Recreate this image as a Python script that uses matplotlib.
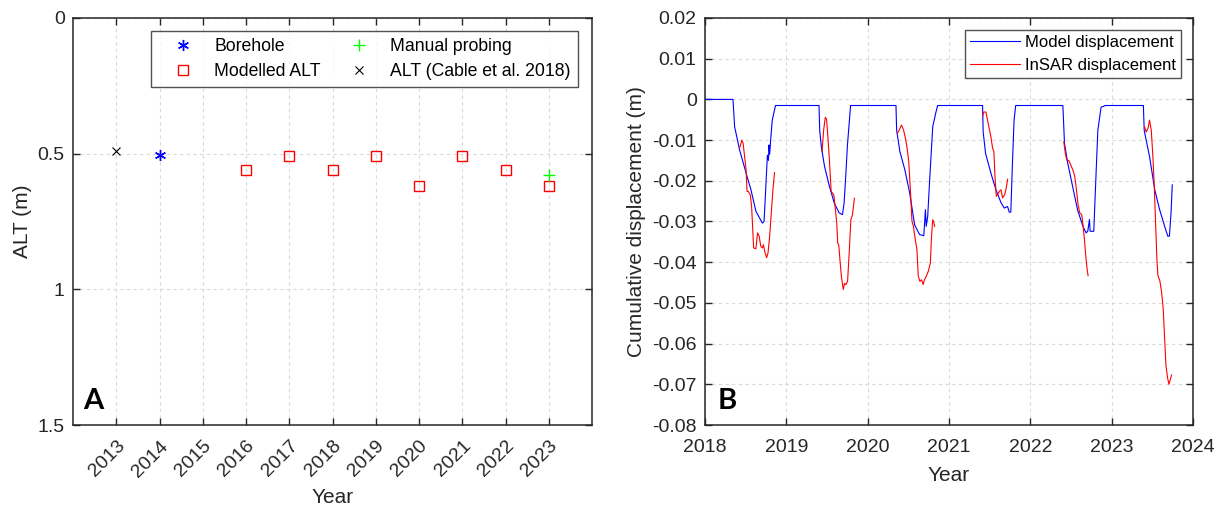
import numpy as np
import matplotlib
matplotlib.use("Agg")
import matplotlib.pyplot as plt

plt.rcParams["font.family"] = ["Liberation Sans", "DejaVu Sans"]
plt.rcParams["axes.unicode_minus"] = False

# Panel A: active layer thickness per year
years = [2013, 2014, 2015, 2016, 2017, 2018, 2019, 2020, 2021, 2022, 2023]
borehole_year = [2014]
borehole_alt = [0.505]
modelled_year = [2016, 2017, 2018, 2019, 2020, 2021, 2022, 2023]
modelled_alt = [0.56, 0.51, 0.56, 0.51, 0.62, 0.51, 0.56, 0.62]
probing_year = [2023]
probing_alt = [0.58]
cable_year = [2013]
cable_alt = [0.49]
alt_ticks = [0, 0.5, 1, 1.5]
alt_labels = ["0", "0.5", "1", "1.5"]

# Panel B: cumulative displacement (decimal year, metres)
model_t = [2018.0, 2018.344, 2018.364, 2018.425, 2018.505, 2018.565, 2018.626,
           2018.706, 2018.726, 2018.746, 2018.767, 2018.780, 2018.787, 2018.795,
           2018.807, 2018.827, 2018.867,
           2019.402, 2019.41, 2019.43, 2019.47, 2019.53, 2019.59, 2019.65,
           2019.69, 2019.71, 2019.73, 2019.75, 2019.79,
           2020.348, 2020.356, 2020.396, 2020.457, 2020.517, 2020.577, 2020.638,
           2020.69, 2020.71, 2020.72, 2020.738, 2020.76, 2020.80, 2020.84, 2020.86,
           2021.413, 2021.42, 2021.45, 2021.515, 2021.577, 2021.64, 2021.68,
           2021.72, 2021.74, 2021.76, 2021.78, 2021.80, 2021.82,
           2022.40, 2022.42, 2022.46, 2022.52, 2022.58, 2022.645, 2022.686,
           2022.706, 2022.727, 2022.735, 2022.76, 2022.78, 2022.81, 2022.83,
           2022.87, 2022.90, 2022.92,
           2023.39, 2023.40, 2023.466, 2023.53, 2023.59, 2023.65, 2023.69,
           2023.71, 2023.73, 2023.745]
model_d = [0.0, 0.0, -0.0067, -0.0124, -0.0181, -0.0222, -0.0275,
           -0.0304, -0.0300, -0.0222, -0.0137, -0.0150, -0.0112, -0.0135,
           -0.0100, -0.0051, -0.0015,
           -0.0015, -0.0075, -0.0116, -0.0165, -0.0214, -0.0255, -0.0279,
           -0.0283, -0.0255, -0.0190, -0.0116, -0.0015,
           -0.0015, -0.0075, -0.0128, -0.0173, -0.0230, -0.0308, -0.0332,
           -0.0335, -0.0271, -0.0312, -0.0288, -0.0206, -0.0067, -0.0031, -0.0015,
           -0.0015, -0.0080, -0.0133, -0.0181, -0.0222, -0.0254, -0.0267,
           -0.0263, -0.0277, -0.0277, -0.0157, -0.0051, -0.0015,
           -0.0015, -0.0108, -0.0157, -0.0214, -0.0271, -0.0311, -0.0328,
           -0.0324, -0.0295, -0.0324, -0.0324, -0.0324, -0.0173, -0.0076,
           -0.0019, -0.0017, -0.0015,
           -0.0015, -0.0076, -0.0141, -0.0222, -0.0271, -0.0311, -0.0336,
           -0.0336, -0.0279, -0.0210]

insar_t = [2018.425, 2018.453, 2018.469, 2018.485, 2018.505, 2018.517, 2018.533,
           2018.557, 2018.573, 2018.598, 2018.626, 2018.646, 2018.666, 2018.686,
           2018.706, 2018.718, 2018.738, 2018.758, 2018.775, 2018.795, 2018.815,
           2018.835, 2018.855, np.nan,
           2019.439, 2019.459, 2019.479, 2019.495, 2019.511, 2019.531, 2019.551,
           2019.567, 2019.584, 2019.604, 2019.620, 2019.632, 2019.644, 2019.660,
           2019.676, 2019.700, 2019.716, 2019.732, 2019.753, 2019.773, 2019.793,
           2019.813, 2019.825, 2019.837, np.nan,
           2020.364, 2020.388, 2020.416, 2020.441, 2020.465, 2020.485, 2020.505,
           2020.525, 2020.545, 2020.561, 2020.586, 2020.606, 2020.622, 2020.642,
           2020.662, 2020.682, 2020.698, 2020.722, 2020.746, 2020.771, 2020.783,
           2020.799, 2020.811, 2020.823, np.nan,
           2021.413, 2021.429, 2021.454, 2021.474, 2021.495, 2021.515, 2021.536,
           2021.552, 2021.565, 2021.581, 2021.598, 2021.618, 2021.639, 2021.659,
           2021.684, 2021.700, 2021.721, np.nan,
           2022.411, 2022.431, 2022.448, 2022.472, 2022.497, 2022.522, 2022.546,
           2022.567, 2022.587, 2022.608, 2022.632, 2022.649, 2022.665, 2022.682,
           2022.698, 2022.710, np.nan,
           2023.404, 2023.425, 2023.446, 2023.466, 2023.487, 2023.507, 2023.524,
           2023.540, 2023.556, 2023.569, 2023.593, 2023.614, 2023.634, 2023.651,
           2023.667, 2023.688, 2023.704, 2023.720, 2023.737]
insar_d = [-0.0120, -0.0100, -0.0108, -0.0137, -0.0173, -0.0226, -0.0226,
           -0.0235, -0.0263, -0.0365, -0.0367, -0.0328, -0.0336, -0.0361,
           -0.0365, -0.0357, -0.0377, -0.0389, -0.0377, -0.0336, -0.0279,
           -0.0222, -0.0180, np.nan,
           -0.0128, -0.0075, -0.0044, -0.0049, -0.0092, -0.0153, -0.0226,
           -0.0230, -0.0235, -0.0271, -0.0304, -0.0353, -0.0357, -0.0394,
           -0.0434, -0.0467, -0.0452, -0.0455, -0.0447, -0.0377, -0.0296,
           -0.0284, -0.0263, -0.0243, np.nan,
           -0.0084, -0.0075, -0.0063, -0.0075, -0.0096, -0.0120, -0.0153,
           -0.0222, -0.0300, -0.0310, -0.0345, -0.0369, -0.0434, -0.0447,
           -0.0443, -0.0455, -0.0443, -0.0434, -0.0422, -0.0402, -0.0345,
           -0.0296, -0.0300, -0.0312, np.nan,
           -0.0041, -0.0031, -0.0031, -0.0051, -0.0072, -0.0092, -0.0120,
           -0.0128, -0.0189, -0.0238, -0.0234, -0.0226, -0.0222, -0.0242,
           -0.0234, -0.0222, -0.0196, np.nan,
           -0.0104, -0.0133, -0.0149, -0.0150, -0.0161, -0.0173, -0.0189,
           -0.0222, -0.0259, -0.0279, -0.0283, -0.0311, -0.0344, -0.0385,
           -0.0417, -0.0433, np.nan,
           -0.0067, -0.0080, -0.0072, -0.0051, -0.0076, -0.0141, -0.0214,
           -0.0303, -0.0393, -0.0433, -0.0446, -0.0474, -0.0515, -0.0588,
           -0.0653, -0.0685, -0.0700, -0.0689, -0.0677]
disp_ticks = [0.02, 0.01, 0, -0.01, -0.02, -0.03, -0.04, -0.05, -0.06, -0.07, -0.08]
disp_labels = ["0.02", "0.01", "0", "-0.01", "-0.02", "-0.03", "-0.04",
               "-0.05", "-0.06", "-0.07", "-0.08"]
year_ticks = [2018, 2019, 2020, 2021, 2022, 2023, 2024]

W, H = 1225, 511
fig = plt.figure(figsize=(W / 100, H / 100), dpi=100)
ax1 = fig.add_axes([73 / W, 1 - 425 / H, (592 - 73) / W, 407 / H])
ax2 = fig.add_axes([705 / W, 1 - 425 / H, (1193 - 705) / W, 407 / H])

spine_col = "#262626"


def matlab_style(ax, xpad):
    ax.grid(True, color="#d9d9d9", linestyle=(0, (3, 3)), linewidth=0.8)
    ax.set_axisbelow(True)
    for s in ax.spines.values():
        s.set_color(spine_col)
        s.set_linewidth(1.1)
    ax.tick_params(direction="in", length=5, width=1, colors=spine_col,
                   top=True, right=True, labelsize=14, labelcolor="#262626")
    ax.tick_params(axis="x", pad=xpad)
    ax.tick_params(axis="y", pad=6)


# Panel A
ax1.plot(borehole_year, borehole_alt, linestyle="none", marker=(6, 2, 0),
         markersize=8, markeredgewidth=1, color="#0000ff", label="Borehole")
ax1.plot(modelled_year, modelled_alt, linestyle="none", marker="s",
         markersize=7, markerfacecolor="none", markeredgewidth=1,
         color="#ff0000", label="Modelled ALT")
ax1.plot(probing_year, probing_alt, linestyle="none", marker="+",
         markersize=9, markeredgewidth=1, color="#00ff00", label="Manual probing")
ax1.plot(cable_year, cable_alt, linestyle="none", marker="x",
         markersize=6, markeredgewidth=0.8, color="black",
         label="ALT (Cable et al. 2018)")
ax1.set_xlim(2012, 2024)
ax1.set_ylim(1.5, 0)
ax1.set_xticks(years)
ax1.set_xticklabels([str(y) for y in years], rotation=45, ha="right",
                    rotation_mode="anchor")
ax1.set_yticks(alt_ticks)
ax1.set_yticklabels(alt_labels)
matlab_style(ax1, 9)
ax1.set_xlabel("Year", fontsize=15, color="#262626", labelpad=5.5)
ax1.set_ylabel("ALT (m)", fontsize=15, color="#262626")
leg1 = ax1.legend(ncol=2, loc="upper right", bbox_to_anchor=(0.973, 0.967),
                  borderaxespad=0, fontsize=12.7, frameon=True, fancybox=False,
                  borderpad=0.4, handlelength=2.84, handletextpad=0.34,
                  columnspacing=0.77, labelspacing=0.42)
leg1.get_frame().set_edgecolor(spine_col)
leg1.get_frame().set_linewidth(1.0)
ax1.text(0.02, 0.04, "A", transform=ax1.transAxes, fontsize=21,
         fontweight="bold", family="Lato")

# Panel B
ax2.plot(model_t, model_d, color="#0000ff", linewidth=0.8,
         label="Model displacement")
ax2.plot(insar_t, insar_d, color="#ff0000", linewidth=0.8,
         label="InSAR displacement")
ax2.set_xlim(2018, 2024)
ax2.set_ylim(-0.08, 0.02)
ax2.set_xticks(year_ticks)
ax2.set_xticklabels([str(y) for y in year_ticks])
ax2.set_yticks(disp_ticks)
ax2.set_yticklabels(disp_labels)
matlab_style(ax2, 10)
ax2.set_xlabel("Year", fontsize=15, color="#262626", labelpad=7)
ax2.set_ylabel("Cumulative displacement (m)", fontsize=15, color="#262626")
leg2 = ax2.legend(loc="upper right", bbox_to_anchor=(0.975, 0.97),
                  borderaxespad=0, fontsize=12, frameon=True, fancybox=False,
                  borderpad=0.3, handlelength=3.0, handletextpad=0.3,
                  labelspacing=0.45)
leg2.get_frame().set_edgecolor(spine_col)
leg2.get_frame().set_linewidth(1.0)
ax2.text(0.025, 0.04, "B", transform=ax2.transAxes, fontsize=21,
         fontweight="bold", family="Lato")

fig.savefig("out.png", dpi=100)
